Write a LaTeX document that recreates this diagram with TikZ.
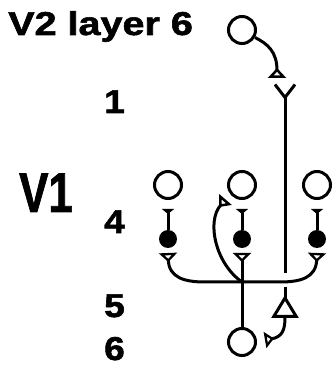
\documentclass[tikz,border=0pt]{standalone}
\usepackage{fontspec}
\setmainfont{Liberation Sans}[BoldFeatures={FakeBold=1.6}]
\usetikzlibrary{arrows.meta}
\begin{document}
\begin{tikzpicture}[x=1pt,y=1pt]
	\tikzstyle{cell} = [shape=circle, draw, line width=3pt, minimum size=27pt, inner sep=0]
	\tikzstyle{soma} = [shape=circle, fill=black, minimum size=18pt, inner sep=0]
	\tikzstyle{wire} = [draw, line width=3pt]
	\tikzstyle{syn} = [-{Triangle[open,reversed,length=10pt,width=18pt]}]
	\tikzstyle{layer} = [anchor=base west, inner sep=0, font=\bfseries\fontsize{33}{33}\selectfont, xscale=1.12]
	\useasboundingbox (0,0) rectangle (333,370);

	% labels
	\node [layer, xscale=1.07] (v2name) at (8,335) {V2 layer 6};
	\node [layer] (l1) at (104,257) {1};
	\node [layer, font=\bfseries\fontsize{56}{56}\selectfont, xscale=0.7] (v1name) at (19,158) {V1};
	\node [layer] (l4) at (104,137) {4};
	\node [layer] (l5) at (104,53) {5};
	\node [layer] (l6) at (104,10) {6};

	% cells
	\node [cell] (v2) at (242,340) {};
	\node [cell] (v6) at (242,28) {};
	\foreach \x [count=\i] in {168,242,317}
	{
		\node [cell] (c\i) at (\x,185) {};
		\node [soma] (s\i) at (\x,131) {};
		\coordinate (d\i) at (\x,161);
		\coordinate (b\i) at (\x,117);
		\draw [wire, -{Triangle[reversed,length=5pt,width=12pt]}] (s\i.north) -- (d\i);
	}

	% feedback from V2
	\coordinate (t1) at (277,292);
	\draw [wire, syn] (v2.-30) .. controls (268,326) and (277,318) .. (t1);
	\coordinate (y1) at (285,287);
	\coordinate (y2) at (285,97);
	\draw [wire, {Straight Barb[reversed,length=13pt,width=20pt]}-] (y1) -- (y2);
	\coordinate (g1) at (285,83);
	\coordinate (t2) at (285,52);
	\draw [wire, -{Triangle[open,reversed,length=23pt,width=27pt]}] (g1) -- (t2);
	\coordinate (t3) at (265,30);
	\draw [wire, -{Triangle[open,reversed,length=9pt,width=16pt]}] (t2) .. controls (285,40) and (282,33) .. (t3);

	% layer 4 to layer 6
	\draw [wire, {Triangle[open,reversed,length=9pt,width=18pt]}-{Triangle[open,reversed,length=9pt,width=18pt]}]
	(b1) .. controls (169,92) and (185,88) .. (205,88) -- (280,88) .. controls (300,88) and (316,92) .. (b3);
	\draw [wire, {Triangle[open,reversed,length=9pt,width=18pt]}-] (b2) -- (v6.north);
	\coordinate (j) at (242,88);
	\coordinate (t4) at (225.5,170.5);
	\draw [wire, -{Triangle[open,reversed,length=10pt,width=16pt]}] (j) .. controls (216,106) and (206,148) .. (t4);
\end{tikzpicture}
\end{document}
